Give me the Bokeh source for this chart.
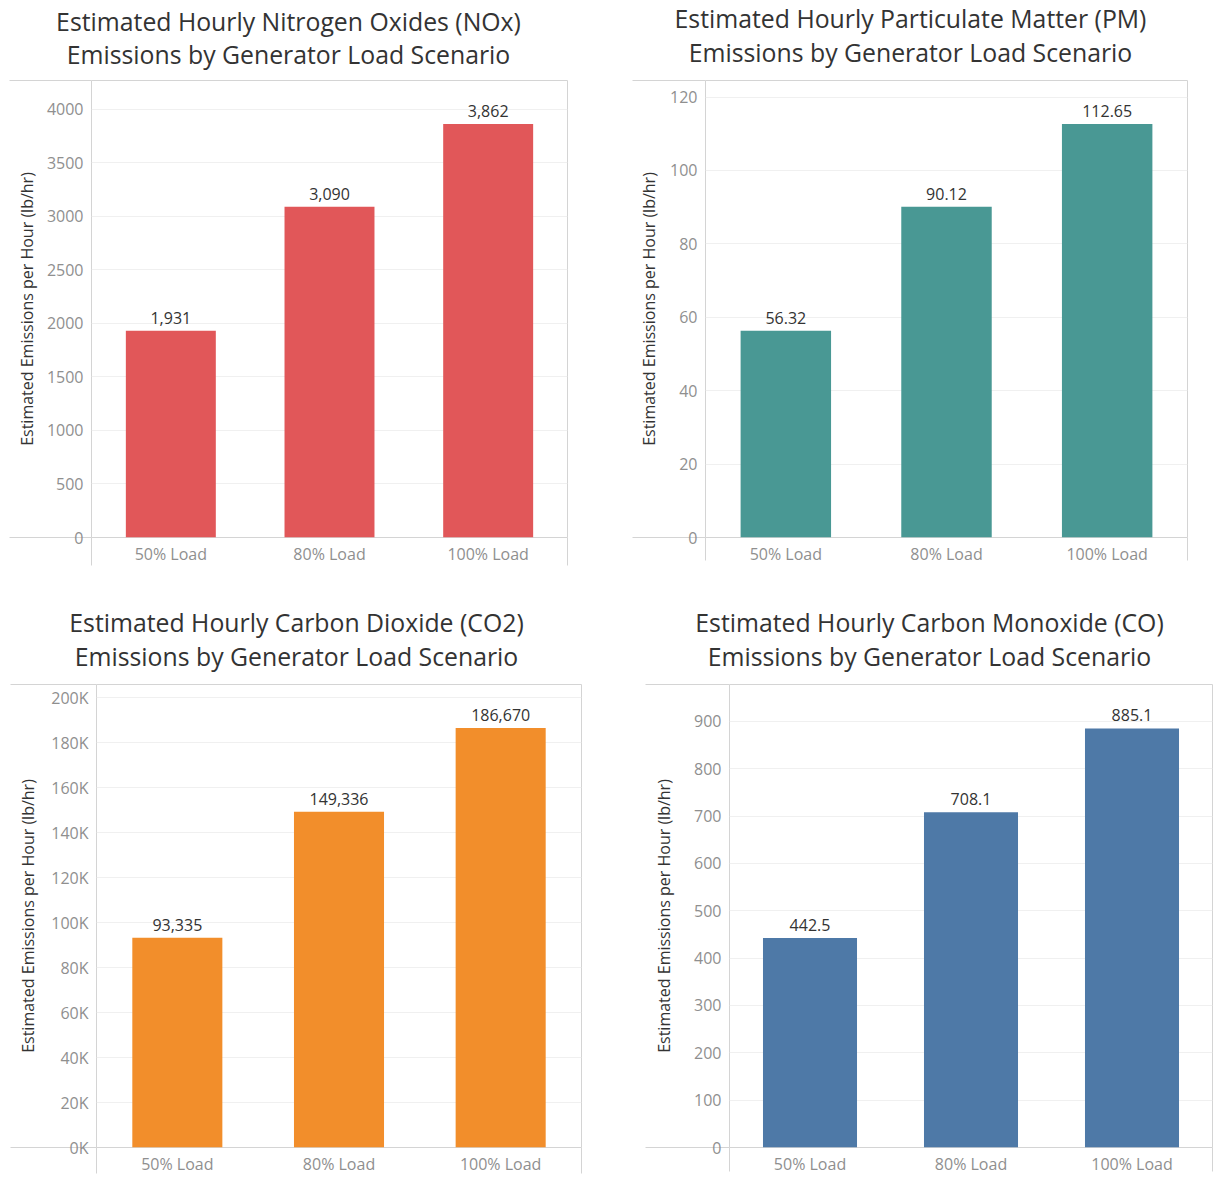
from bokeh.plotting import figure
from bokeh.models import FixedTicker, ColumnDataSource, Range1d, LinearAxis, Grid
from bokeh.layouts import row, column
from bokeh.core.properties import value
from bokeh.embed import file_html
from bokeh.resources import INLINE

# ---------------- data ----------------
categories = ["50% Load", "80% Load", "100% Load"]

nox_values = [1931, 3090, 3862]
pm_values = [56.32, 90.12, 112.65]
co2_values = [93335, 149336, 186670]
co_values = [442.5, 708.1, 885.1]

nox_labels = ["1,931", "3,090", "3,862"]
pm_labels = ["56.32", "90.12", "112.65"]
co2_labels = ["93,335", "149,336", "186,670"]
co_labels = ["442.5", "708.1", "885.1"]

nox_ticks = [0, 500, 1000, 1500, 2000, 2500, 3000, 3500, 4000]
pm_ticks = [0, 20, 40, 60, 80, 100, 120]
co2_ticks = [0, 20000, 40000, 60000, 80000, 100000, 120000, 140000, 160000, 180000, 200000]
co2_tick_text = ["0K", "20K", "40K", "60K", "80K", "100K", "120K", "140K", "160K", "180K", "200K"]
co_ticks = [0, 100, 200, 300, 400, 500, 600, 700, 800, 900]

nox_title = ["Estimated Hourly Nitrogen Oxides (NOx)", "Emissions by Generator Load Scenario"]
pm_title = ["Estimated Hourly Particulate Matter (PM)", "Emissions by Generator Load Scenario"]
co2_title = ["Estimated Hourly Carbon Dioxide (CO2)", "Emissions by Generator Load Scenario"]
co_title = ["Estimated Hourly Carbon Monoxide (CO)", "Emissions by Generator Load Scenario"]

y_title = "Estimated Emissions per Hour (lb/hr)"

FONT = "Open Sans"
LINE = "#d4d4d4"
GRID = "#f0f0f0"
GRAY = "#8f8f8f"
DARK = "#333333"


def title_fig(lines, width, height, centre_x, centres_y):
    """Header strip holding the two centred title lines."""
    f = figure(width=width, height=height, x_range=Range1d(0, width), y_range=Range1d(0, height),
               output_backend="svg", toolbar_location=None, x_axis_type=None, y_axis_type=None,
               min_border=0)
    f.outline_line_color = None
    f.background_fill_color = "white"
    f.border_fill_color = "white"
    src = ColumnDataSource(dict(x=[centre_x] * len(lines),
                                y=[height - c for c in centres_y], text=lines))
    f.text(x="x", y="y", text="text", source=src, text_align="center", text_baseline="middle",
           text_font=value(FONT), text_font_size="24.8px", text_color=DARK)
    return f


def panel(vals, labels, color, ticks, ymax, overrides, *, width, height,
          bl, br, bt, bb, ext_left, ext_bottom, bar_w, ylab_standoff):
    n = len(categories)
    xs = [i + 0.5 for i in range(n)]
    src = ColumnDataSource(dict(x=xs, v=vals, label=labels, cat=categories))
    p = figure(width=width, height=height, x_range=Range1d(0, n), y_range=Range1d(0, ymax),
               output_backend="svg", toolbar_location=None, x_axis_type=None, y_axis_type=None,
               min_border_left=bl, min_border_right=br, min_border_top=bt, min_border_bottom=bb)
    p.outline_line_color = LINE
    p.outline_line_width = 1
    p.background_fill_color = "white"
    p.border_fill_color = "white"

    yaxis = LinearAxis(
        ticker=FixedTicker(ticks=ticks, minor_ticks=[0, ymax]),
        major_tick_in=0, major_tick_out=0, minor_tick_in=0, minor_tick_out=ext_left,
        minor_tick_line_color=LINE, axis_line_color=None,
        major_label_text_font=FONT, major_label_text_font_size="16px",
        major_label_text_color=GRAY, major_label_standoff=8 - ext_left,
        axis_label=y_title, axis_label_text_font=FONT, axis_label_text_font_size="16px",
        axis_label_text_font_style="normal", axis_label_text_color=DARK,
        axis_label_standoff=ylab_standoff,
    )
    if overrides:
        yaxis.major_label_overrides = overrides
    p.add_layout(yaxis, "left")
    p.add_layout(Grid(dimension=1, ticker=yaxis.ticker, grid_line_color=GRID))

    xaxis = LinearAxis(
        ticker=FixedTicker(ticks=xs, minor_ticks=[0, n]),
        major_label_overrides={x: c for x, c in zip(xs, categories)},
        major_tick_in=0, major_tick_out=0, minor_tick_in=0, minor_tick_out=ext_bottom,
        minor_tick_line_color=LINE, axis_line_color=None,
        major_label_text_font=FONT, major_label_text_font_size="16px",
        major_label_text_color=GRAY, major_label_standoff=5 - ext_bottom,
    )
    p.add_layout(xaxis, "below")

    p.vbar(x="x", top="v", width=bar_w, bottom=0, source=src, fill_color=color, line_color=None)
    p.text(x="x", y="v", text="label", source=src, text_align="center", text_baseline="bottom",
           y_offset=-7, text_font=value(FONT), text_font_size="16px", text_color=DARK)
    return p


# top row: header strips 78 px tall, charts below (frame top at y=80)
h1 = title_fig(nox_title, 610, 78, 288, (20, 53))
h2 = title_fig(pm_title, 604, 78, 300, (17, 51))
p1 = panel(nox_values, nox_labels, "#E15759", nox_ticks, 4268, None,
           width=610, height=512, bl=91, br=43, bt=2, bb=53, ext_left=82, ext_bottom=28,
           bar_w=0.567, ylab_standoff=6)
p2 = panel(pm_values, pm_labels, "#499894", pm_ticks, 124.5, None,
           width=604, height=512, bl=95, br=27, bt=2, bb=53, ext_left=73, ext_bottom=23,
           bar_w=0.563, ylab_standoff=7)

# bottom row: header strips 92 px tall (frame top at y=684)
h3 = title_fig(co2_title, 610, 92, 296, (31, 65))
h4 = title_fig(co_title, 604, 92, 319, (31, 65))
p3 = panel(co2_values, co2_labels, "#F28E2B", co2_ticks, 206000,
           {t: s for t, s in zip(co2_ticks, co2_tick_text)},
           width=610, height=495, bl=96, br=29, bt=2, bb=26, ext_left=86, ext_bottom=26,
           bar_w=0.557, ylab_standoff=9)
p4 = panel(co_values, co_labels, "#4E79A7", co_ticks, 978, None,
           width=604, height=495, bl=119, br=2, bt=2, bb=26, ext_left=84, ext_bottom=24,
           bar_w=0.584, ylab_standoff=16)

layout = column(row(h1, h2), row(p1, p2), row(h3, h4), row(p3, p4))
open("out.html", "w").write(file_html(layout, INLINE))
